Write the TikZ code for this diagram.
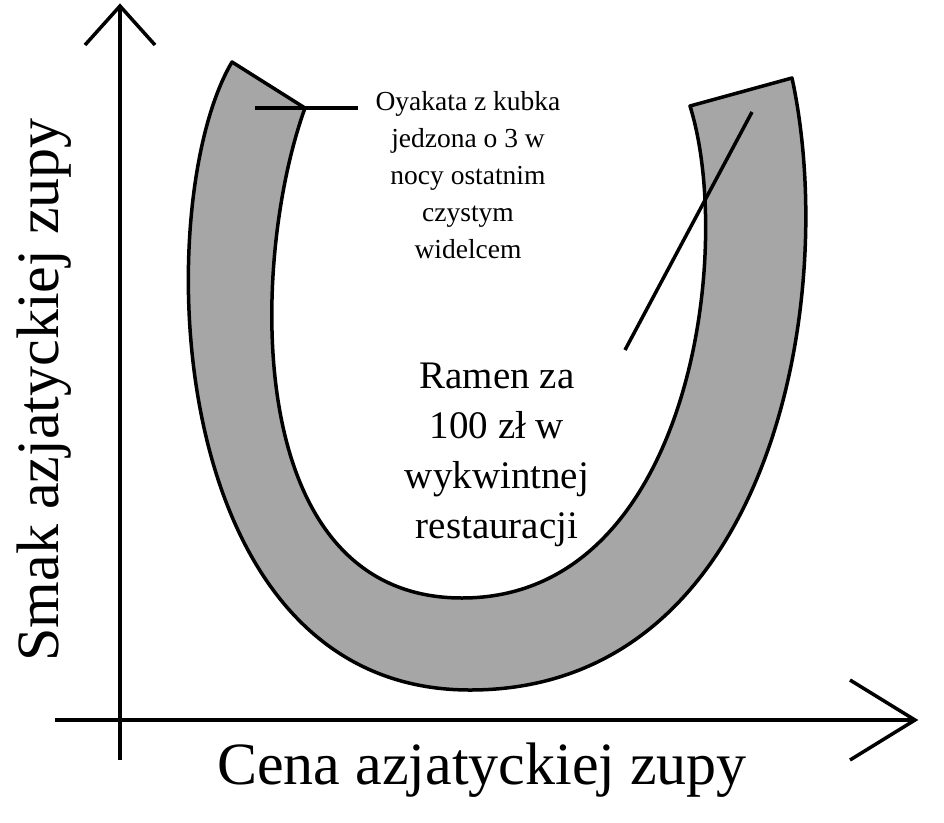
\documentclass[tikz,border=0pt]{standalone}
\usepackage{fontspec}
\setmainfont{Liberation Serif}
\begin{document}
\begin{tikzpicture}[x=1pt,y=-1pt,line width=3.5pt,
  lbl/.style={align=center,font=\fontsize{27.5}{37}\selectfont},
  big/.style={align=center,font=\fontsize{39}{50}\selectfont}]
\useasboundingbox (0,0) rectangle (944,822);
\fill[white] (0,0) rectangle (944,822);
% horseshoe
\draw[fill={rgb,255:red,166;green,166;blue,166},line join=round]
 (232,62) .. controls (150,200) and (160,690) .. (470,690)
 .. controls (770,690) and (840,300) .. (792,78)
 -- (690,106)
 .. controls (735,250) and (690,598) .. (462,598)
 .. controls (240,598) and (250,260) .. (305,108) -- cycle;
% axes
\coordinate (yb) at (120,760); \coordinate (yt) at (120,6);
\coordinate (xl) at (55,720); \coordinate (xr) at (915,720);
\draw (yb) -- (yt);
\draw (85,45) -- (yt) -- (155,45);
\draw (xl) -- (xr);
\draw (850,680) -- (xr) -- (850,760);
% texts
\node[lbl] (t1) at (468,175) {Oyakata z kubka\\jedzona o 3 w\\nocy ostatnim\\czystym\\widelcem};
\node[big] (t2) at (497,455) {Ramen za\\100 zł w\\wykwintnej\\restauracji};
\coordinate (p1) at (255,108);
\draw (p1) -- (358,108);
\coordinate (p2) at (752,112);
\draw (625,350) -- (p2);
\node[font=\fontsize{60}{70}\selectfont] (xlab) at (482,770) {Cena azjatyckiej zupy};
\node[font=\fontsize{60}{70}\selectfont,rotate=90] (ylab) at (44,390) {Smak azjatyckiej zupy};
\end{tikzpicture}
\end{document}
